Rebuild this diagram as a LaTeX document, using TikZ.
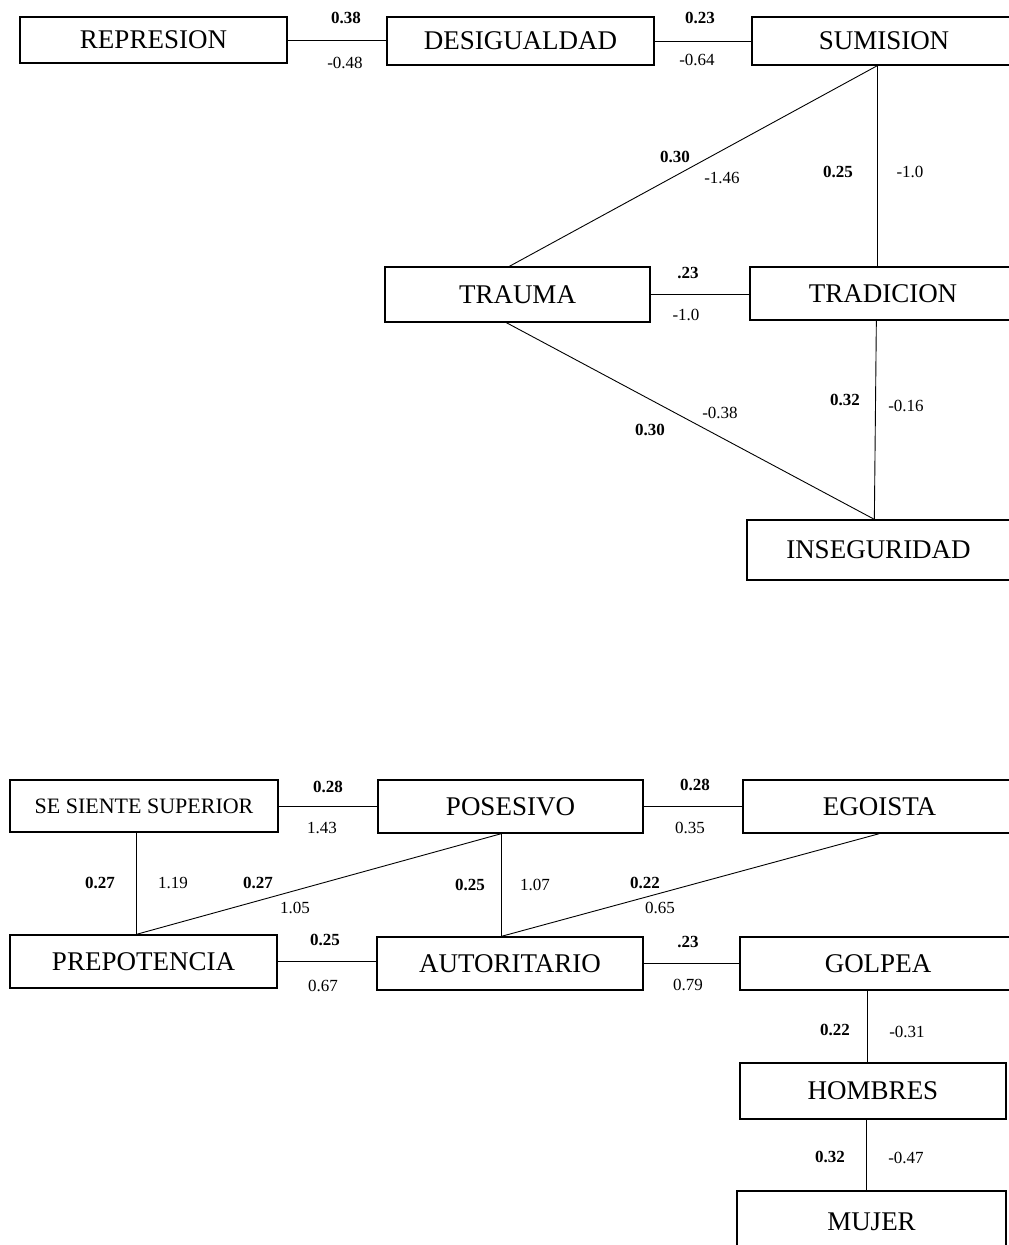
\documentclass[tikz,border=0pt]{standalone}
\usepackage{fontspec}
\setmainfont{Liberation Serif}
\usetikzlibrary{calc}
\tikzset{
  box/.style={draw, line width=1.3pt, inner sep=0pt, font=\fontsize{27}{29}\selectfont},
  link/.style={draw, line width=0.9pt},
  wt/.style={font=\fontsize{17}{19}\selectfont\bfseries, inner sep=0pt},
  ld/.style={font=\fontsize{17}{19}\selectfont, inner sep=0pt}
}
\newcommand{\mybox}[6]{% name, left, top, right, bottom, text
  \node[box, minimum width={(#4-#2)*1pt}, minimum height={(#5-#3)*1pt}] (#1) at ({(#2+#4)/2},{(#3+#5)/2}) {#6};}
\begin{document}
\begin{tikzpicture}[x=1pt,y=-1pt]
\useasboundingbox (0,0) rectangle (1009,1245);
% ---------- top diagram ----------
\mybox{rep}{20}{17}{287}{63}{REPRESION}
\mybox{des}{387}{17}{654}{65}{DESIGUALDAD}
\mybox{sum}{752}{17}{1016}{65}{SUMISION}
\mybox{trau}{385}{267}{650}{322}{TRAUMA}
\mybox{trad}{750}{267}{1016}{320}{TRADICION}
\mybox{inse}{747}{520}{1010}{580}{INSEGURIDAD}

\draw[link] (rep.east) -- (rep.east -| des.west);
\draw[link] (des.east) -- (des.east -| sum.west);
\draw[link] ([xshift=126pt]sum.south west) -- ([xshift=128pt]trad.north west);
\draw[link] ([xshift=126pt]sum.south west) -- ([xshift=125pt]trau.north west);
\draw[link] (trau.east) -- (trau.east -| trad.west);
\draw[link] ([xshift=127pt]trad.south west) -- ([xshift=128pt]inse.north west);
\draw[link] ([xshift=122pt]trau.south west) -- ([xshift=128pt]inse.north west);

\node[wt] (w1) at (346,18) {0.38};  \node[ld] (l1) at (345,63) {-0.48};
\node[wt] (w2) at (700,18) {0.23};  \node[ld] (l2) at (697,60) {-0.64};
\node[wt] (w3) at (675,157) {0.30}; \node[ld] (l3) at (722,178) {-1.46};
\node[wt] (w4) at (838,172) {0.25}; \node[ld] (l4) at (910,172) {-1.0};
\node[wt] (w5) at (688,273) {.23};  \node[ld] (l5) at (686,315) {-1.0};
\node[wt] (w6) at (845,400) {0.32}; \node[ld] (l6) at (906,406) {-0.16};
\node[wt] (w7) at (650,430) {0.30}; \node[ld] (l7) at (720,413) {-0.38};

% ---------- bottom diagram ----------
\mybox{sup}{10}{780}{278}{832}{\fontsize{22}{24}\selectfont SE SIENTE SUPERIOR}
\mybox{pos}{378}{780}{643}{833}{POSESIVO}
\mybox{ego}{743}{780}{1016}{833}{EGOISTA}
\mybox{pre}{10}{935}{277}{988}{PREPOTENCIA}
\mybox{aut}{377}{937}{643}{990}{AUTORITARIO}
\mybox{gol}{740}{937}{1016}{990}{GOLPEA}
\mybox{hom}{740}{1063}{1006}{1119}{HOMBRES}
\mybox{muj}{737}{1191}{1006}{1252}{MUJER}

\draw[link] (sup.east) -- (sup.east -| pos.west);
\draw[link] (pos.east) -- (pos.east -| ego.west);
\draw[link] ([xshift=127pt]sup.south west) -- ([xshift=127pt]pre.north west);
\draw[link] ([xshift=127pt]pre.north west) -- ([xshift=124pt]pos.south west);
\draw[link] ([xshift=124pt]pos.south west) -- ([xshift=125pt]aut.north west);
\draw[link] ([xshift=125pt]aut.north west) -- ([xshift=137pt]ego.south west);
\draw[link] (pre.east) -- (pre.east -| aut.west);
\draw[link] (aut.east) -- (aut.east -| gol.west);
\draw[link] ([xshift=128pt]gol.south west) -- ([xshift=128pt]hom.north west);
\draw[link] ([xshift=127pt]hom.south west) -- ([xshift=130pt]muj.north west);

\node[wt] (w8) at (328,787) {0.28};   \node[ld] (l8) at (322,828) {1.43};
\node[wt] (w9) at (695,785) {0.28};   \node[ld] (l9) at (690,828) {0.35};
\node[wt] (w10) at (100,883) {0.27};  \node[ld] (l10) at (173,883) {1.19};
\node[wt] (w11) at (258,883) {0.27};  \node[ld] (l11) at (295,908) {1.05};
\node[wt] (w12) at (470,885) {0.25};  \node[ld] (l12) at (535,885) {1.07};
\node[wt] (w13) at (645,883) {0.22};  \node[ld] (l13) at (660,908) {0.65};
\node[wt] (w14) at (325,940) {0.25};  \node[ld] (l14) at (323,986) {0.67};
\node[wt] (w15) at (688,942) {.23};   \node[ld] (l15) at (688,985) {0.79};
\node[wt] (w16) at (835,1030) {0.22}; \node[ld] (l16) at (907,1032) {-0.31};
\node[wt] (w17) at (830,1157) {0.32}; \node[ld] (l17) at (906,1158) {-0.47};
\end{tikzpicture}
\end{document}
